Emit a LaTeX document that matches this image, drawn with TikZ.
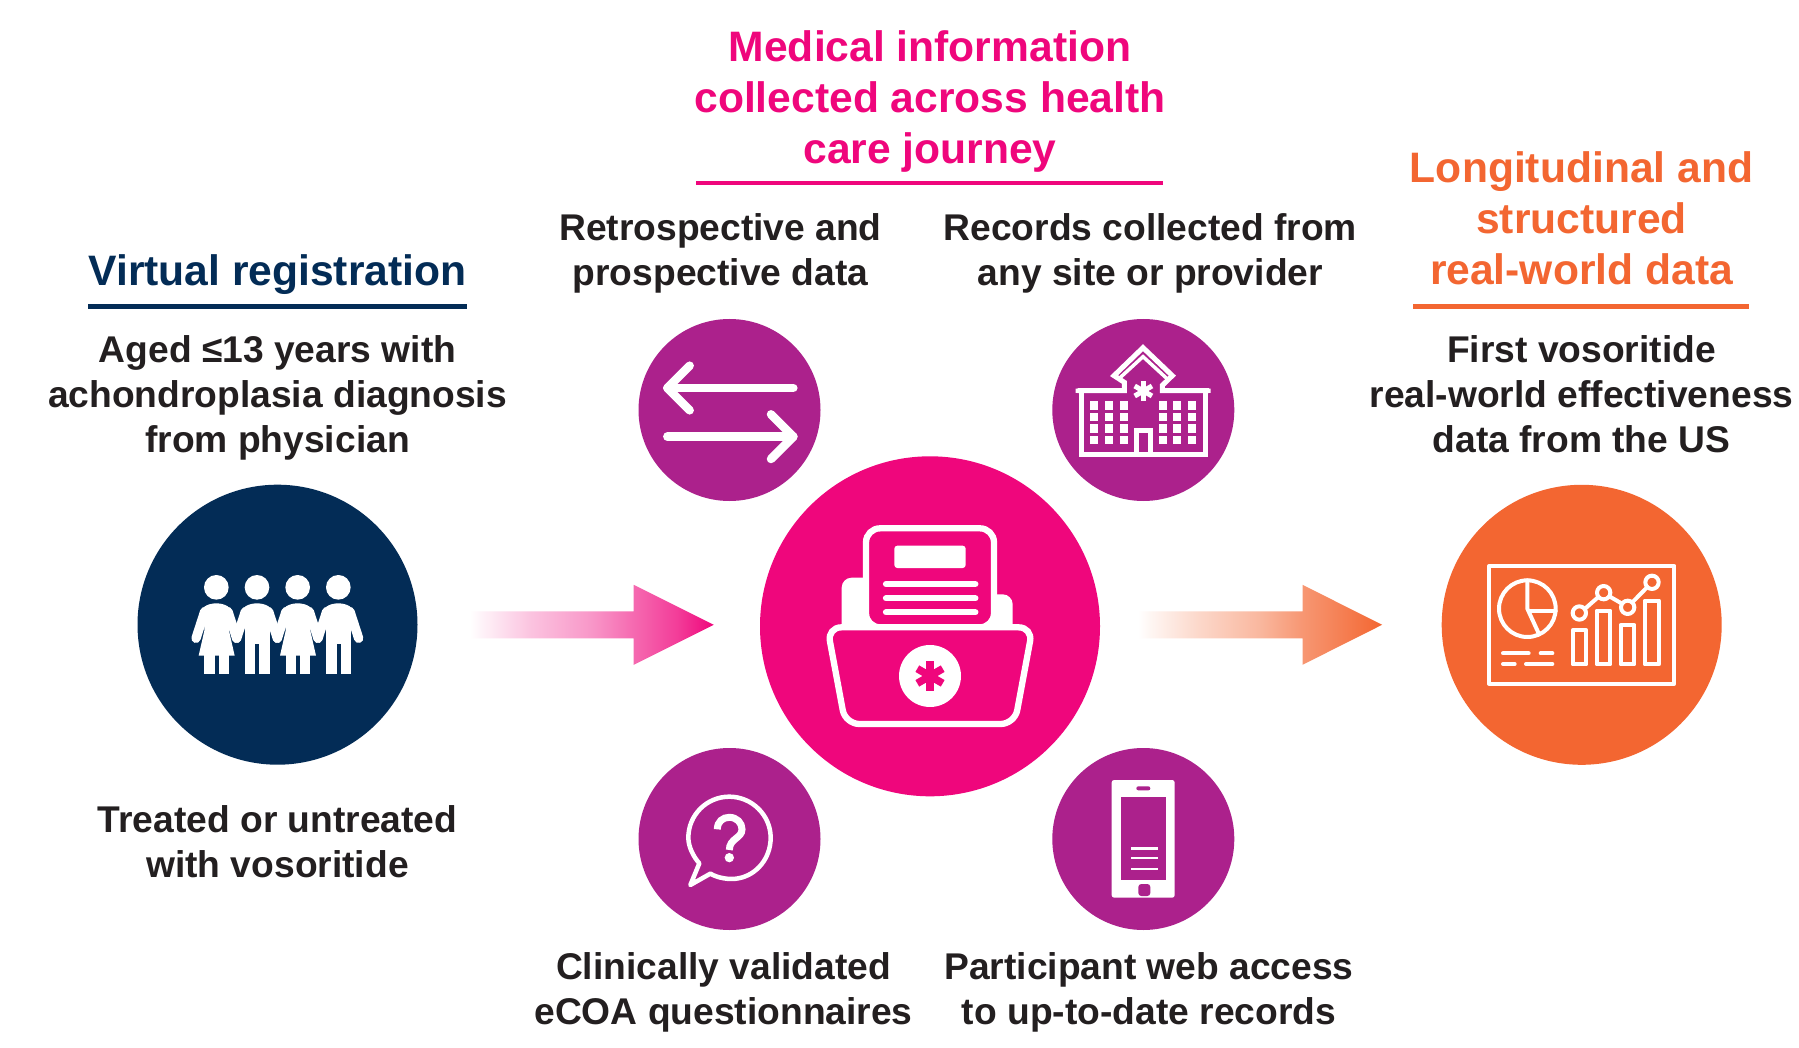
\documentclass[tikz,border=0pt]{standalone}
\usepackage{fontspec}
\setmainfont{Liberation Sans}
\usetikzlibrary{calc}
\definecolor{navy}{HTML}{032C56}
\definecolor{hotpink}{HTML}{EF067C}
\definecolor{flame}{HTML}{F36631}
\definecolor{plum}{HTML}{AC218C}
\definecolor{ink}{HTML}{231F20}
\pgfdeclarehorizontalshading{pinkfade}{100bp}{color(0bp)=(white); color(25bp)=(white); color(28bp)=(hotpink!6!white); color(37.5bp)=(hotpink!24!white); color(50bp)=(hotpink!42!white); color(58.5bp)=(hotpink!60!white); color(67.5bp)=(hotpink!78!white); color(75bp)=(hotpink); color(100bp)=(hotpink)}
\pgfdeclarehorizontalshading{flamefade}{100bp}{color(0bp)=(white); color(25bp)=(white); color(28bp)=(flame!7!white); color(37.5bp)=(flame!26!white); color(50bp)=(flame!47!white); color(58.5bp)=(flame!68!white); color(67.5bp)=(flame!85!white); color(75bp)=(flame); color(100bp)=(flame)}
\tikzset{
  body/.style={font=\bfseries\fontsize{37.2}{45}\selectfont,text=ink,align=center,inner sep=0pt},
  ttl/.style={font=\bfseries\fontsize{42.6}{51}\selectfont,align=center,inner sep=0pt},
  disc/.style={circle,inner sep=0pt,minimum size=#1},
  rule/.style={line width=4.5pt},
}
\begin{document}
\begin{tikzpicture}[x=1pt,y=-1pt]
\useasboundingbox[fill=white] (0,0) rectangle (1799,1048);
% discs
\node[disc=280pt,fill=navy] (people) at (277.5,624.7) {};
\node[disc=340pt,fill=hotpink] (main) at (930,626.3) {};
\node[disc=280pt,fill=flame] (dash) at (1581.7,624.8) {};
\node[disc=182pt,fill=plum] (swap) at (729.5,410) {};
\node[disc=182pt,fill=plum] (hosp) at (1143.3,410) {};
\node[disc=182pt,fill=plum] (ques) at (729.5,839) {};
\node[disc=182pt,fill=plum] (phone) at (1143.3,839) {};
% titles
\node[ttl,text=hotpink] (tmed) at (930,101.5) {Medical information\\collected across health\\care journey};
\node[ttl,text=navy] (tvirt) at (277.5,274.5) {Virtual registration};
\node[ttl,text=flame] (tlong) at (1581.5,218) {Longitudinal and\\structured\\real-world data};
\draw[rule,draw=hotpink] (696,183) -- (1163,183);
\draw[rule,draw=navy] (88,306.5) -- (467,306.5);
\draw[rule,draw=flame] (1413,306.5) -- (1749,306.5);
% body text
\node[body] (b1) at (277.5,397.5) {Aged ≤13 years with\\achondroplasia diagnosis\\from physician};
\node[body] (b2) at (277.5,841.2) {Treated or untreated\\with vosoritide};
\node[body] (b3) at (720.5,253) {Retrospective and\\prospective data};
\node[body] (b4) at (1150.3,253) {Records collected from\\any site or provider};
\node[body] (b5) at (723.5,992.5) {Clinically validated\\eCOA questionnaires};
\node[body] (b6) at (1149,992.5) {Participant web access\\to up-to-date records};
\node[body] (b7) at (1581.5,394) {First vosoritide\\real-world effectiveness\\data from the US};
% block arrows
\coordinate (p1) at ($(people.east)+(0,0.1)$);
\coordinate (t1) at ($(main.west |- p1)+(-46,0)$);
\shade[shading=pinkfade]
  ($(p1)+(52,-13.5)$) -- ($(p1)+(216,-13.5)$) -- ($(p1)+(216,-40)$)
  -- (t1) -- ($(p1)+(216,40)$) -- ($(p1)+(216,13.5)$) -- ($(p1)+(52,13.5)$) -- cycle;
\coordinate (p2) at (main.east |- dash.west);
\coordinate (t2) at ($(dash.west)+(-59.4,0)$);
\shade[shading=flamefade]
  ($(p2)+(38,-13.5)$) -- ($(p2)+(202.3,-13.5)$) -- ($(p2)+(202.3,-40)$)
  -- (t2) -- ($(p2)+(202.3,40)$) -- ($(p2)+(202.3,13.5)$) -- ($(p2)+(38,13.5)$) -- cycle;
% people icon (zoom coords)
\begin{scope}[shift={(120,470)},x=0.33333pt,y=-0.33333pt]
  \foreach \cx in {289,411,533,655}{
    \fill[white] (\cx,352) circle (37);
    \fill[white] (\cx,430) ellipse (48 and 30);
    \draw[white,line width=9.33pt,line cap=round] (\cx-35,425) -- (\cx-61,505);
    \draw[white,line width=9.33pt,line cap=round] (\cx+35,425) -- (\cx+61,505);
  }
  \foreach \cx in {289,533}{
    \fill[white] (\cx-36,430) -- (\cx+38,430) -- (\cx+38,482) -- (\cx+55,557) -- (\cx-53,557) -- (\cx-36,482) -- cycle;
    \fill[white] (\cx-36,550) rectangle (\cx-5,613);
    \fill[white] (\cx+8,550) rectangle (\cx+38,613);
  }
  \foreach \cx in {411,655}{
    \fill[white] (\cx-36,430) rectangle (\cx+38,613);
    \fill[navy] (\cx-5,522) rectangle (\cx+7,613.5);
  }
\end{scope}
% folder icon
\begin{scope}[shift={(750,450)},x=0.33333pt,y=-0.33333pt]
  \fill[white] (275,535) [rounded corners=10pt] -- (275,383) [sharp corners] -- (355,383) -- (355,535) -- cycle;
  \fill[white] (725,535) -- (725,433) [rounded corners=10pt] -- (788,433) [sharp corners] -- (788,535) -- cycle;
  \draw[white,line width=6.3pt,fill=hotpink,rounded corners=14pt] (348,532) -- (348,235) -- (732,235) -- (732,532) -- cycle;
  \fill[white,rounded corners=3pt] (433,287) rectangle (647,354);
  \foreach \yy in {402,445,487}{\draw[white,line width=6.3pt,line cap=round] (408,\yy) -- (676,\yy);}
  \draw[white,line width=6.3pt,fill=hotpink,rounded corners=14pt] (232,532) -- (848,532) -- (794,822) -- (286,822) -- cycle;
  \fill[white] (540,678) circle (93);
  \foreach \a in {90,150,210}{\draw[hotpink,line width=7.5pt] ($(540,678)+(\a:44)$) -- ($(540,678)+(\a+180:44)$);}
\end{scope}
% dashboard icon
\begin{scope}[shift={(1430,480)},x=0.33333pt,y=-0.33333pt]
  \tikzset{dl/.style={draw=white,line width=4pt,line join=round,line cap=round}}
  \draw[dl] (177,258) rectangle (733,611);
  \draw[dl] (292,386) circle (85);
  \draw[dl] (292,301) -- (292,386) -- (326,460);
  \draw[dl] (300,393) -- (377,393);
  \draw[dl] (219,520) -- (296,520) (332,520) -- (367,520) (219,552) -- (254,552) (288,552) -- (367,552);
  \draw[dl] (428,451) rectangle (469,553);
  \draw[dl] (500,392) rectangle (541,553);
  \draw[dl] (572,435) rectangle (613,553);
  \draw[dl] (644,362) rectangle (687,553);
  \draw[dl] (448,399) circle (20) (521,338) circle (20) (593,382) circle (20) (666,307) circle (20);
  \draw[dl] (464,387) -- (505,351) (538,349) -- (576,371) (607,367) -- (652,321);
\end{scope}
% swap icon
\begin{scope}[shift={(630,310)},x=0.33333pt,y=-0.33333pt]
  \tikzset{al/.style={draw=white,line width=8.5pt,line cap=round,line join=round}}
  \draw[al] (490,234) -- (112,234);
  \draw[al] (179,167) -- (112,234) -- (179,301);
  \draw[al] (112,380) -- (490,380);
  \draw[al] (423,313) -- (490,380) -- (423,447);
\end{scope}
% hospital icon
\begin{scope}[shift={(1045,310)},x=0.33333pt,y=-0.33333pt]
  \draw[white,line width=5pt,line join=miter] (98,242) -- (238,242) -- (238,217) -- (207,197) -- (294,113) -- (382,197) -- (352,226) -- (352,242) -- (492,242);
  \draw[white,line width=3.5pt] (222,206) -- (294,140) -- (366,206);
  \fill[white] (92,236) rectangle (238,249) (352,236) rectangle (497,249);
  \draw[white,line width=5pt] (110,245) -- (110,434) -- (482,434) -- (482,245);
  \foreach \xx in {136,180,224,341,385,429}{\foreach \yy in {274,309,343,377}{\fill[white] (\xx,\yy) rectangle ++(24,25);}}
  \draw[white,line width=5pt] (275,434) -- (275,362) -- (316,362) -- (316,434);
  \foreach \a in {90,150,210}{\draw[white,line width=5pt] ($(295,243)+(\a:30)$) -- ($(295,243)+(\a+180:30)$);}
\end{scope}
% question icon
\begin{scope}[shift={(630,740)},x=0.33333pt,y=-0.33333pt]
  \draw[white,line width=4.5pt,line join=round]
    (241,401) .. controls (265,415) and (300,420) .. (325,415)
    .. controls (380,405) and (422,355) .. (422,293)
    .. controls (422,225) and (365,170) .. (298,170)
    .. controls (230,170) and (175,225) .. (175,293)
    .. controls (175,320) and (190,350) .. (208,370)
    -- (181,435) -- cycle;
  \draw[white,line width=7pt] (262,268) .. controls (262,245) and (278,232) .. (298,232)
    .. controls (320,232) and (336,248) .. (336,268)
    .. controls (336,295) and (298,295) .. (298,330);
  \fill[white] (298,353) circle (14);
\end{scope}
% phone icon
\begin{scope}[shift={(1045,740)},x=0.33333pt,y=-0.33333pt]
  \fill[white,rounded corners=2.5pt] (200,120) rectangle (389,473);
  \fill[plum] (228,172) rectangle (362,421);
  \fill[plum,rounded corners=2pt] (274,139) rectangle (316,151);
  \fill[plum,rounded corners=3pt] (280,432) rectangle (316,468);
  \foreach \yy in {325,353,386}{\fill[white] (258,\yy-3.5) rectangle (340,\yy+3.5);}
\end{scope}
\end{tikzpicture}
\end{document}
